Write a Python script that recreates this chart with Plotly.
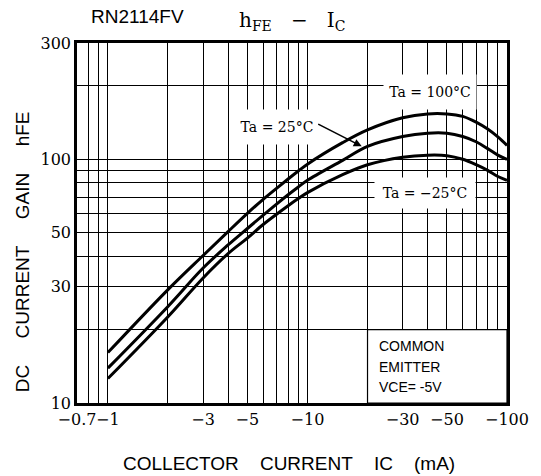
import math
import plotly.graph_objects as go

# ---- data (IC in mA, shown as negative on the axis) ----
ic = [1, 2, 3, 4, 5, 6, 7, 8, 9, 10, 15, 20, 30, 40, 50, 60, 70, 80, 90, 100]
hfe_ta100 = [16.1, 29.2, 40.3, 50.5, 60, 68.5, 76, 83, 89.5, 95.5, 117, 132, 148, 153.5, 153.5, 150, 142, 133, 123.5, 114]
hfe_ta25 = [13.9, 24.9, 35.8, 44.5, 52, 59, 65.5, 71.5, 77, 82, 99, 113, 124, 128, 128, 124, 118, 110.6, 104, 100]
hfe_tam25 = [12.6, 22.6, 32.6, 41, 47.5, 54, 59.5, 64.5, 69, 73, 86.5, 95, 102, 104, 103.5, 100, 95, 90, 85, 82]

x_grid = [0.7, 0.8, 0.9, 1, 2, 3, 4, 5, 6, 7, 8, 9, 10, 20, 30, 40, 50, 60, 70, 80, 90, 100]
x_labels = {0.7: "−0.7", 1: "−1", 3: "−3", 5: "−5", 10: "−10", 30: "−30", 50: "−50", 100: "−100"}
y_grid = [10, 20, 30, 40, 50, 60, 70, 80, 90, 100, 200, 300]
y_labels = {10: "10", 30: "30", 50: "50", 100: "100", 300: "300"}

box_x = [20, 100]
box_y = [10, 20]

SERIF = "DejaVu Serif, serif"
SANS = "Liberation Sans, Arial, sans-serif"
L = math.log10
NB = "\u00a0"


def px(xp):
    return (xp - 77) / 440


def py(yp):
    return (402.7 - yp) / 359.4


fig = go.Figure()

# white note box (covers grid)
fig.add_trace(go.Scatter(
    x=[box_x[0], box_x[1], box_x[1], box_x[0], box_x[0]],
    y=[box_y[0], box_y[0], box_y[1], box_y[1], box_y[0]],
    mode="lines", fill="toself", fillcolor="white",
    line=dict(color="black", width=1.2), hoverinfo="skip", showlegend=False))

for ys in (hfe_ta100, hfe_ta25, hfe_tam25):
    fig.add_trace(go.Scatter(x=ic, y=ys, mode="lines",
                             line=dict(color="black", width=3, shape="spline", smoothing=1.0),
                             showlegend=False, hoverinfo="skip"))

ann = []
# Ta labels
ann.append(dict(x=L(41), y=L(189), xref="x", yref="y", text="Ta = 100°C", showarrow=False,
                font=dict(family=SERIF, size=14, color="black"), bgcolor="white",
                width=90, height=32))
ann.append(dict(x=L(7.04), y=L(136), xref="x", yref="y", text="Ta = 25°C", showarrow=False,
                font=dict(family=SERIF, size=14, color="black"), bgcolor="white",
                width=88, height=32))
ann.append(dict(x=L(38.7), y=L(72.5), xref="x", yref="y", text="Ta = −25°C", showarrow=False,
                font=dict(family=SERIF, size=14, color="black"), bgcolor="white",
                width=98, height=28))
# arrow
ann.append(dict(x=L(18.7), y=L(113), xref="x", yref="y", text="", showarrow=True,
                ax=-45, ay=-23, arrowhead=2, arrowsize=1, arrowwidth=1.6, arrowcolor="black"))
# note text
for txt, yv in (("COMMON", 345.7), ("EMITTER", 366.7), ("VCE= -5V", 386.7)):
    ann.append(dict(x=px(384), y=py(yv), xref="paper", yref="paper",
                    xanchor="left", yanchor="middle", text=txt, showarrow=False,
                    font=dict(family=SANS, size=14, color="black")))
# titles
ann.append(dict(x=px(139), y=py(17), xref="paper", yref="paper", xanchor="center", yanchor="middle",
                text="RN2114FV", showarrow=False, font=dict(family=SANS, size=19, color="black")))
ann.append(dict(x=px(297), y=py(21), xref="paper", yref="paper", xanchor="center", yanchor="middle",
                text="h<sub>FE</sub>" + NB * 3 + "−" + NB * 3 + "I<sub>C</sub>", showarrow=False,
                font=dict(family=SERIF, size=20, color="black")))
ann.append(dict(x=px(294), y=py(463), xref="paper", yref="paper", xanchor="center", yanchor="middle",
                text=("COLLECTOR" + NB * 4 + "CURRENT" + NB * 4 + "IC" + NB * 4 + "(mA)"),
                showarrow=False, font=dict(family=SANS, size=19, color="black")))
ann.append(dict(x=px(21), y=py(252), xref="paper", yref="paper", xanchor="center", yanchor="middle",
                text=("DC" + NB * 5 + "CURRENT" + NB * 5 + "GAIN" + NB * 5 + "hFE"),
                textangle=-90, showarrow=False, font=dict(family=SANS, size=19, color="black")))

fig.update_layout(
    width=541, height=476, autosize=False,
    margin=dict(l=77, r=24, t=43, b=73),
    paper_bgcolor="white", plot_bgcolor="white",
    annotations=ann,
    xaxis=dict(type="log", range=[L(0.7), L(100)],
               tickmode="array", tickvals=x_grid,
               ticktext=[x_labels.get(v, "") for v in x_grid],
               tickangle=0, ticks="",
               tickfont=dict(family=SERIF, size=16, color="black"),
               showgrid=True, gridcolor="black", gridwidth=1.2,
               showline=True, linecolor="black", linewidth=2.5, mirror=True,
               zeroline=False, fixedrange=True),
    yaxis=dict(type="log", range=[L(10), L(300)],
               tickmode="array", tickvals=y_grid,
               ticktext=[y_labels.get(v, "") for v in y_grid],
               ticks="",
               tickfont=dict(family=SERIF, size=16, color="black"),
               showgrid=True, gridcolor="black", gridwidth=1.2,
               showline=True, linecolor="black", linewidth=2.5, mirror=True,
               zeroline=False, fixedrange=True),
)

fig.write_html("out.html")
